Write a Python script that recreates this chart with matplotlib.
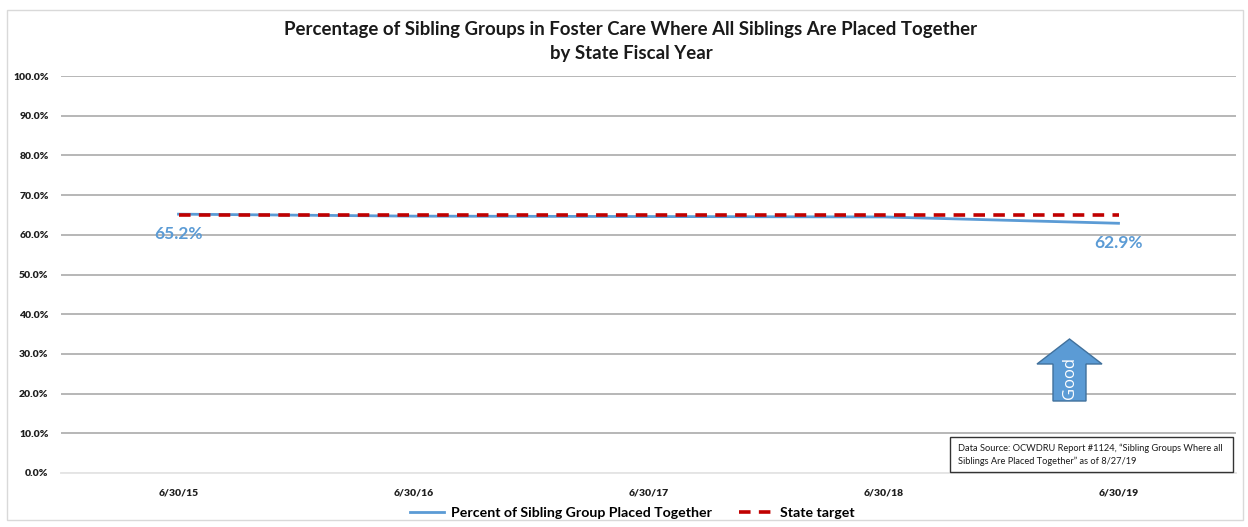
import matplotlib
matplotlib.use("Agg")
import matplotlib.pyplot as plt
from matplotlib.patches import FancyArrow, Rectangle
from matplotlib.ticker import PercentFormatter

# Data
fiscal_years = ["6/30/15", "6/30/16", "6/30/17", "6/30/18", "6/30/19"]
pct_placed_together = [65.2, 64.7, 64.6, 64.5, 62.9]
state_target = [65.0, 65.0, 65.0, 65.0, 65.0]
y_ticks = [0, 10, 20, 30, 40, 50, 60, 70, 80, 90, 100]

BLUE = "#5b9bd5"
RED = "#c00000"
FONT = ["Lato", "DejaVu Sans"]

plt.rcParams["font.family"] = FONT

fig = plt.figure(figsize=(12.48, 5.27), dpi=100)
W, H = 1248, 527

# Outer chart frame
fig.patches.append(Rectangle((7 / W, 7 / H), 1236 / W, 510 / H, transform=fig.transFigure,
                             fill=False, edgecolor="#d9d9d9", linewidth=1.0))

ax = fig.add_axes([61 / W, (H - 473) / H, 1175 / W, 397 / H])
x = list(range(len(fiscal_years)))

ax.set_xlim(-0.5, len(fiscal_years) - 0.5)
ax.set_ylim(0, 100)
ax.set_yticks(y_ticks)
ax.yaxis.set_major_formatter(PercentFormatter(decimals=1))
ax.set_xticks(x)
ax.set_xticklabels(fiscal_years)
ax.tick_params(axis="both", length=0, labelsize=7.5, colors="#1f1f1f")
ax.tick_params(axis="y", pad=9)
ax.tick_params(axis="x", pad=11)
for lbl in ax.get_xticklabels() + ax.get_yticklabels():
    lbl.set_fontweight("heavy")

ax.grid(axis="y", color="#b7b7b7", linewidth=1.4)
ax.set_axisbelow(True)
for s in ["top", "right", "left"]:
    ax.spines[s].set_visible(False)
ax.spines["bottom"].set_color("#e6e6e6")
ax.spines["bottom"].set_linewidth(1.4)

line_actual, = ax.plot(x, pct_placed_together, color=BLUE, linewidth=2.0,
                       label="Percent of Sibling Group Placed Together", zorder=3)
line_target, = ax.plot(x, state_target, color=RED, linewidth=2.6, dashes=(3.2, 2.3),
                       label="State target", zorder=4)

# Data labels at the first and last points
for i in (0, len(x) - 1):
    ax.annotate(f"{pct_placed_together[i]:.1f}%", (x[i], pct_placed_together[i]),
                xytext=(0, -14.5), textcoords="offset points", ha="center", va="center",
                color=BLUE, fontsize=12.5, fontweight="bold")

# Title
fig.text(631 / W, 1 - 30 / H, "Percentage of Sibling Groups in Foster Care Where All Siblings Are Placed Together",
         ha="center", va="center", fontsize=13.4, fontweight="bold", color="#1a1a1a")
fig.text(631 / W, 1 - 53 / H, "by State Fiscal Year",
         ha="center", va="center", fontsize=13.4, fontweight="bold", color="#1a1a1a")

# "Good" arrow
fx0, fy0 = 1069.5 / W, 1 - 401 / H
arrow = FancyArrow(fx0, fy0, 0, (401 - 339) / H, width=33 / W, head_width=65 / W,
                   head_length=25 / H, length_includes_head=True,
                   transform=fig.transFigure, facecolor=BLUE, edgecolor="#41719c",
                   linewidth=1.0, zorder=5)
fig.patches.append(arrow)
fig.text(1070 / W, 1 - 378 / H, "Good", rotation=90, ha="center", va="center",
         color="white", fontsize=12, family=["Open Sans", "DejaVu Sans"], zorder=8)

# Data source note
fig.patches.append(Rectangle((950 / W, 1 - 472 / H), 283 / W, 35 / H, transform=fig.transFigure,
                             facecolor="white", edgecolor="#333333", linewidth=1.0, zorder=5))
fig.text(958 / W, 1 - 448 / H, "Data Source: OCWDRU Report #1124, \u201cSibling Groups Where all",
         ha="left", va="center", fontsize=6.7, color="#1a1a1a", zorder=8)
fig.text(958 / W, 1 - 461 / H, "Siblings Are Placed Together\u201d as of 8/27/19",
         ha="left", va="center", fontsize=6.7, color="#1a1a1a", zorder=8)

# Legend
leg = fig.legend(handles=[line_actual, line_target], loc="center", bbox_to_anchor=(632 / W, 1 - 513 / H),
                 ncol=2, frameon=False, fontsize=10.2, handlelength=2.4, columnspacing=1.9,
                 handletextpad=0.5)
for t in leg.get_texts():
    t.set_fontweight("bold")

fig.savefig("out.png", dpi=100, facecolor="white")
